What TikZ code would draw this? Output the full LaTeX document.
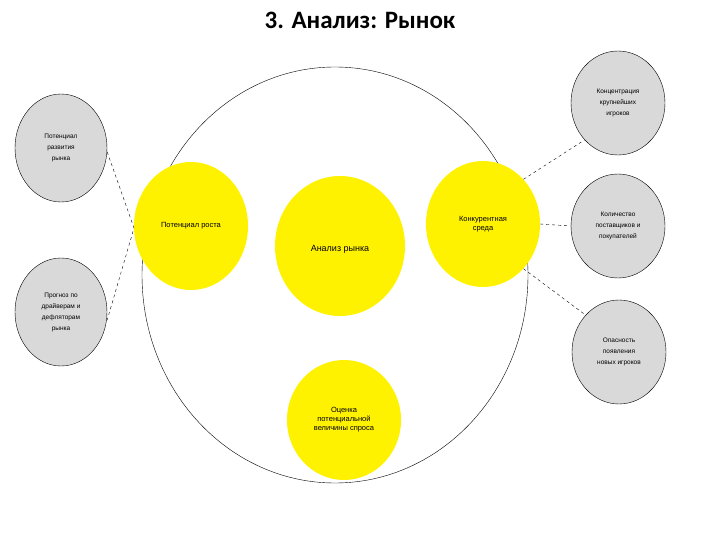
\documentclass[tikz,border=0pt]{standalone}
\usepackage{fontspec}
\setmainfont{Liberation Sans}
\newfontfamily\titlefont{Carlito}
\usetikzlibrary{shapes.geometric,calc}
\begin{document}
\begin{tikzpicture}[x=1pt,y=-1pt,
  yel/.style={ellipse,fill=yellow,inner sep=0pt,align=center,font=\fontsize{7.5}{9}\selectfont},
  gry/.style={ellipse,fill=gray!30,draw=black,inner sep=0pt,align=center,font=\fontsize{6.5}{11}\selectfont},
  dsh/.style={draw=black,dashed,thin}]
\useasboundingbox (0,0) rectangle (720,540);
\node[font=\titlefont\bfseries\fontsize{25}{28}\selectfont] (title) at (360,20) {3. Анализ: Рынок};
\draw[thin] (335,275) ellipse [x radius=193, y radius=208];
\node[yel,minimum width=114,minimum height=128] (lg) at (191,226) {Потенциал роста};
\node[yel,minimum width=130,minimum height=140,font=\fontsize{9}{11}\selectfont] (c) at (340,246) {\\[2pt]Анализ рынка};
\node[yel,minimum width=114,minimum height=126] (rg) at (483,224) {Конкурентная\\среда};
\node[yel,minimum width=114,minimum height=120] (b) at (344,420) {Оценка\\потенциальной\\величины спроса};
\node[gry,minimum width=92,minimum height=108] (l1) at (61,148) {Потенциал\\развития\\рынка};
\node[gry,minimum width=92,minimum height=108] (l2) at (61,312) {Прогноз по\\драйверам и\\дефляторам\\рынка};
\node[gry,minimum width=94,minimum height=104] (r1) at (618,103) {Концентрация\\крупнейших\\игроков};
\node[gry,minimum width=94,minimum height=104] (r2) at (618,226) {Количество\\поставщиков и\\покупателей};
\node[gry,minimum width=94,minimum height=104] (r3) at (619,352) {Опасность\\появления\\новых игроков};
\coordinate (lp) at (134,228);
\draw[dsh] ($(l1.east)+(0,4)$) -- (lp) -- ($(l2.east)+(0,8)$);
\draw[dsh] (rg.north east) -- (r1.south west);
\draw[dsh] (rg.east) -- (r2.west);
\draw[dsh] (rg.south east) -- (r3.north west);
\end{tikzpicture}
\end{document}
